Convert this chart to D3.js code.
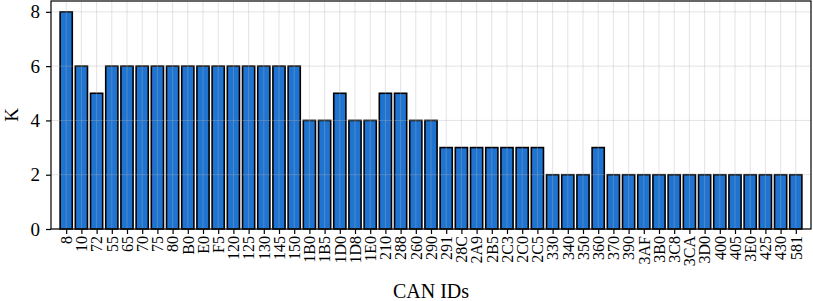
<!DOCTYPE html>
<html>
<head>
<meta charset="utf-8">
<script src="https://cdn.jsdelivr.net/npm/d3@7"></script>
<style>
  body { margin: 0; background: #fff; }
  text { font-family: "Liberation Serif", "DejaVu Serif", serif; fill: #000; }
</style>
</head>
<body>
<div id="chart"></div>
<script>
// Width and height
var chart_width  = 813;
var chart_height = 301;

var can_ids = ["8","10","72","55","65","70","75","80","B0","E0","F5","120","125","130","145","150",
  "1B0","1B5","1D0","1D8","1E0","210","288","260","290","291","28C","2A9","2B5","2C3","2C0","2C5",
  "330","340","350","360","370","390","3AF","3B0","3C8","3CA","3D0","400","405","3E0","425","430","581"];
var k_values = [8,6,5,6,6,6,6,6,6,6,6,6,6,6,6,6,
  4,4,5,4,4,5,5,4,4,3,3,3,3,3,3,3,
  2,2,2,3,2,2,2,2,2,2,2,2,2,2,2,2,2];
var y_ticks = [0, 2, 4, 6, 8];

var margin = {left: 51, right: 2, top: 1, bottom: 72};
var w = chart_width - margin.left - margin.right;
var h = chart_height - margin.top - margin.bottom;

var svg = d3.select("#chart").append("svg")
  .attr("width", chart_width)
  .attr("height", chart_height);

var g = svg.append("g").attr("transform", "translate(" + margin.left + "," + margin.top + ")");

// index scale, matplotlib-ish limits -1 .. n
var x = d3.scaleLinear().domain([-1, can_ids.length]).range([0, w]);
var y = d3.scaleLinear().domain([0, 8.4]).range([h, 0]);
var bw = x(0.8) - x(0);

// bars
g.selectAll("rect.bar")
  .data(k_values)
  .enter()
  .append("rect")
  .attr("class", "bar")
  .attr("x", function(d, i){ return x(i) - bw / 2; })
  .attr("y", function(d){ return y(d); })
  .attr("width", bw)
  .attr("height", function(d){ return y(0) - y(d); })
  .attr("fill", "#1f74d2")
  .attr("stroke", "#000")
  .attr("stroke-width", 1.6);

// grid on top, light and see-through
var grid = g.append("g").attr("stroke", "#b0b0b0").attr("stroke-opacity", 0.35).attr("stroke-width", 1);
grid.selectAll("line.gx")
  .data(can_ids)
  .enter()
  .append("line")
  .attr("x1", function(d, i){ return x(i); })
  .attr("x2", function(d, i){ return x(i); })
  .attr("y1", 0).attr("y2", h);
grid.selectAll("line.gy")
  .data(y_ticks)
  .enter()
  .append("line")
  .attr("x1", 0).attr("x2", w)
  .attr("y1", function(d){ return y(d); })
  .attr("y2", function(d){ return y(d); });

// frame
g.append("rect")
  .attr("width", w).attr("height", h)
  .attr("fill", "none").attr("stroke", "#000").attr("stroke-width", 1.2);

// y axis
var yAxis = g.append("g")
  .call(d3.axisLeft(y).tickValues(y_ticks).tickSize(5).tickPadding(6).tickFormat(d3.format("d")));
yAxis.select(".domain").remove();
yAxis.selectAll("line").attr("stroke-width", 1.2);
yAxis.selectAll("text").style("font-size", "19px");

// x axis
var xAxis = g.append("g")
  .attr("transform", "translate(0," + h + ")")
  .call(d3.axisBottom(x).tickValues(d3.range(can_ids.length)).tickSize(5)
    .tickFormat(function(i){ return can_ids[i]; }));
xAxis.select(".domain").remove();
xAxis.selectAll("line").attr("stroke-width", 1.2);
xAxis.selectAll("text")
  .style("font-size", "16px")
  .attr("text-anchor", "end")
  .attr("dy", "0.33em")
  .attr("transform", "translate(0,7) rotate(-90)")
  .attr("x", 0).attr("y", 0);

// axis titles
svg.append("text")
  .attr("x", margin.left + w / 2)
  .attr("y", 298)
  .attr("text-anchor", "middle")
  .style("font-size", "20px")
  .text("CAN IDs");

svg.append("text")
  .attr("transform", "translate(18," + (margin.top + h / 2) + ") rotate(-90)")
  .attr("text-anchor", "middle")
  .style("font-size", "19px")
  .text("K");
</script>
</body>
</html>
